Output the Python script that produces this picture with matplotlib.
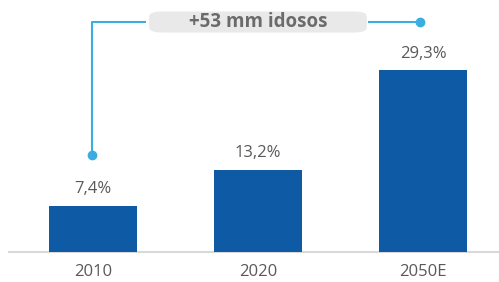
import matplotlib
matplotlib.use("Agg")
from matplotlib import pyplot as plt
from matplotlib.patches import FancyBboxPatch

# data
years = ['2010', '2020', '2050E']
shares = [7.4, 13.2, 29.3]
value_labels = ['7,4%', '13,2%', '29,3%']
bracket_text = '+53 mm idosos'

bar_color = '#0f5aa4'
line_color = '#3aaee0'
text_color = '#595959'

plt.rcParams['font.family'] = ['Open Sans', 'DejaVu Sans']

fig = plt.figure(figsize=(4.99, 2.82), dpi=100)
ax = fig.add_axes([0, 0, 1, 1])

x = range(len(years))
ax.bar(x, shares, width=0.533, color=bar_color, zorder=2)

for i, lab in enumerate(value_labels):
    ax.text(i, shares[i] + 1.4, lab, ha='center', va='bottom',
            fontsize=12, color=text_color)

# baseline
ax.plot([-0.51, 2.5], [0, 0], color='#d9d9d9', lw=1.5, zorder=1)

# year labels
for i, yr in enumerate(years):
    ax.text(i, -3.3, yr, ha='center', va='center', fontsize=12,
            color=text_color)

# bracket from first bar to last bar
top_y = 37.1
left_dot_y = 15.6
x0, x2 = -0.005, 1.98
ax.plot([x0, x0, 0.32], [left_dot_y, top_y, top_y], color=line_color,
        lw=1.5, solid_capstyle='butt')
ax.plot([1.67, x2], [top_y, top_y], color=line_color, lw=1.5)
ax.plot([x0, x2], [left_dot_y, top_y], 'o', color=line_color, ms=6)

box = FancyBboxPatch((0.34, top_y - 1.7), 1.32, 3.4,
                     boxstyle='round,pad=0,rounding_size=0.08',
                     fc='#e9e9e9', ec='none', mutation_aspect=10)
ax.add_patch(box)
ax.text(1.0, top_y, bracket_text, ha='center', va='center',
        fontsize=13.5, fontweight='bold', color='#6b6b6b')

ax.set_xlim(-0.564, 2.461)
ax.set_ylim(-4.84, 40.65)
ax.axis('off')

fig.savefig('out.png', dpi=100)
